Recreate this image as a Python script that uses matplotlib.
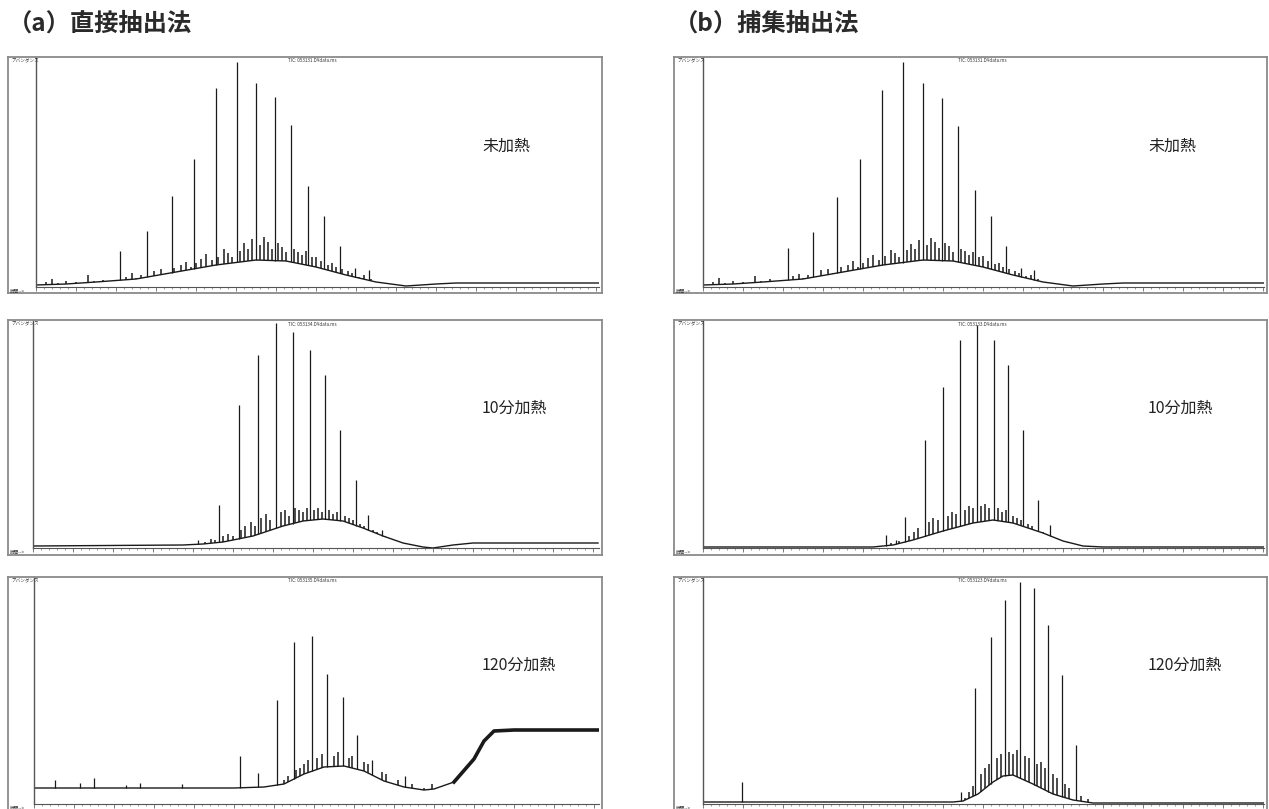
import matplotlib
matplotlib.use("Agg")
import matplotlib.pyplot as plt
import numpy as np

plt.rcParams['font.family'] = ['Noto Sans CJK JP', 'DejaVu Sans']

# ---------------- data (x: scan position, y: abundance, arbitrary units) ----------------
titles = ["（a）直接抽出法", "（b）捕集抽出法"]
conditions = ["未加熱", "10分加熱", "120分加熱"]
tic_names = [["TIC: 053131.D¥data.ms", "TIC: 053134.D¥data.ms", "TIC: 053135.D¥data.ms"],
             ["TIC: 053131.D¥data.ms", "TIC: 053133.D¥data.ms", "TIC: 053123.D¥data.ms"]]

# (a) 未加熱
a1_base_x = [0, 30, 60, 100, 140, 180, 220, 250, 280, 310, 340, 370, 400, 420, 564]
a1_base_y = [2, 3, 5, 8, 15, 22, 27, 26, 20, 12, 5, 1, 3, 4, 4]
a1_peak_x = [84, 111, 136, 158, 180, 201, 220, 239, 255, 272, 288, 304, 319, 333]
a1_peak_y = [36, 56, 91, 128, 199, 225, 204, 190, 162, 101, 71, 41, 19, 17]
a1_minor_x = [10, 16, 22, 30, 40, 52, 58, 67, 75, 90, 96, 100, 105, 113, 118, 125, 130, 138,
              145, 150, 155, 160, 165, 170, 176, 182, 188, 192, 196, 204, 208, 212, 216, 224,
              228, 232, 236, 242, 246, 250, 258, 262, 266, 270, 276, 280, 285, 292, 296, 300,
              306, 312, 316, 323, 328, 335]
a1_minor_y = [5, 8, 4, 6, 5, 12, 6, 7, 6, 10, 14, 9, 12, 10, 16, 18, 14, 19,
              22, 25, 20, 24, 28, 33, 27, 30, 38, 34, 30, 36, 44, 38, 48, 42,
              50, 45, 38, 44, 40, 35, 38, 35, 32, 36, 30, 30, 26, 22, 24, 20,
              18, 16, 14, 10, 12, 8]

# (a) 10分加熱
a2_base_x = [0, 150, 170, 190, 220, 250, 270, 290, 310, 330, 350, 370, 390, 400, 420, 440, 565]
a2_base_y = [2, 3, 4, 6, 12, 22, 27, 29, 27, 20, 12, 5, 1, 0, 3, 5, 5]
a2_peak_x = [165, 186, 206, 225, 243, 260, 277, 292, 307, 323, 335, 349]
a2_peak_y = [8, 43, 143, 193, 225, 216, 198, 173, 118, 68, 33, 18]
a2_minor_x = [172, 178, 182, 190, 195, 200, 208, 212, 218, 222, 228, 233, 237, 248, 252, 256,
              262, 266, 270, 274, 281, 285, 289, 296, 300, 304, 312, 316, 320, 327, 331, 340,
              344, 352, 357, 362]
a2_minor_y = [6, 9, 8, 12, 14, 12, 18, 22, 26, 22, 30, 34, 28, 36, 38, 32,
              40, 38, 36, 40, 38, 40, 36, 38, 34, 36, 32, 30, 28, 24, 22, 18,
              16, 12, 10, 8]

# (a) 120分加熱
a3_base_x = [0, 100, 200, 230, 250, 270, 290, 310, 330, 350, 370, 390, 400, 420, 440, 450, 460, 480, 564]
a3_base_y = [16, 16, 16, 17, 20, 30, 37, 38, 33, 23, 17, 14, 15, 22, 45, 63, 73, 74, 74]
a3_peak_x = [21, 46, 60, 92, 106, 148, 206, 224, 243, 260, 278, 293, 309, 323, 338, 371]
a3_peak_y = [24, 21, 26, 19, 21, 20, 48, 31, 104, 162, 168, 130, 107, 69, 44, 28]
a3_minor_x = [250, 254, 262, 266, 270, 274, 283, 288, 300, 304, 315, 318, 330, 334, 348, 352,
              364, 378, 390, 398]
a3_minor_y = [24, 28, 34, 36, 40, 44, 46, 50, 48, 52, 46, 48, 42, 40, 32, 30,
              24, 20, 16, 20]

# (b) 未加熱
b1_base_x = [0, 30, 60, 100, 140, 180, 220, 250, 280, 310, 340, 370, 400, 420, 563]
b1_base_y = [2, 3, 5, 8, 15, 22, 27, 26, 20, 12, 5, 1, 3, 4, 4]
b1_peak_x = [85, 110, 134, 157, 179, 200, 220, 239, 255, 272, 288, 303, 318, 331]
b1_peak_y = [39, 55, 90, 128, 197, 225, 204, 189, 161, 97, 71, 41, 19, 17]
b1_minor_x = [10, 16, 22, 30, 40, 52, 58, 67, 75, 90, 96, 100, 105, 113, 118, 125, 130, 138,
              145, 150, 155, 160, 165, 170, 176, 182, 188, 192, 196, 204, 208, 212, 216, 224,
              228, 232, 236, 242, 246, 250, 258, 262, 266, 270, 276, 280, 285, 292, 296, 300,
              306, 312, 316, 323, 328, 335]
b1_minor_y = [5, 9, 4, 6, 5, 11, 6, 8, 6, 11, 13, 9, 12, 10, 17, 18, 14, 20,
              22, 26, 20, 24, 29, 32, 27, 31, 37, 34, 30, 37, 43, 38, 47, 42,
              49, 45, 39, 44, 41, 35, 38, 36, 32, 35, 30, 31, 26, 23, 24, 20,
              18, 16, 14, 11, 12, 8]

# (b) 10分加熱
b2_base_x = [0, 170, 190, 210, 240, 270, 290, 310, 340, 360, 380, 400, 563]
b2_base_y = [1, 1, 3, 8, 17, 25, 28, 25, 15, 7, 2, 1, 1]
b2_peak_x = [183, 193, 202, 222, 240, 257, 274, 291, 305, 320, 335, 347]
b2_peak_y = [13, 8, 31, 108, 161, 208, 223, 208, 183, 118, 48, 23]
b2_minor_x = [188, 196, 206, 211, 215, 226, 230, 235, 245, 249, 253, 262, 266, 270, 278, 282,
              286, 295, 299, 303, 310, 314, 318, 325, 329, 340, 344, 352, 358, 365]
b2_minor_y = [5, 7, 12, 16, 20, 26, 30, 28, 32, 36, 34, 38, 42, 40, 42, 44,
              40, 40, 36, 38, 32, 30, 28, 24, 22, 16, 14, 10, 8, 5]

# (b) 120分加熱
b3_base_x = [0, 250, 260, 275, 290, 300, 310, 330, 350, 370, 390, 563]
b3_base_y = [2, 2, 3, 10, 22, 28, 29, 20, 10, 4, 1, 1]
b3_peak_x = [39, 258, 272, 288, 302, 317, 331, 345, 359, 373]
b3_peak_y = [22, 12, 116, 167, 204, 222, 216, 179, 129, 59]
b3_minor_x = [262, 266, 270, 278, 282, 286, 294, 298, 306, 310, 314, 322, 326, 334, 338, 342,
              350, 354, 362, 366, 378, 385]
b3_minor_y = [6, 12, 18, 30, 36, 40, 46, 50, 52, 50, 54, 48, 46, 40, 42, 36,
              30, 26, 20, 16, 8, 5]

panels = [
    [(a1_base_x, a1_base_y, a1_peak_x, a1_peak_y, a1_minor_x, a1_minor_y),
     (a2_base_x, a2_base_y, a2_peak_x, a2_peak_y, a2_minor_x, a2_minor_y),
     (a3_base_x, a3_base_y, a3_peak_x, a3_peak_y, a3_minor_x, a3_minor_y)],
    [(b1_base_x, b1_base_y, b1_peak_x, b1_peak_y, b1_minor_x, b1_minor_y),
     (b2_base_x, b2_base_y, b2_peak_x, b2_peak_y, b2_minor_x, b2_minor_y),
     (b3_base_x, b3_base_y, b3_peak_x, b3_peak_y, b3_minor_x, b3_minor_y)],
]

# ---------------- layout (pixels) ----------------
W, H = 1269, 809
fig = plt.figure(figsize=(W / 100, H / 100), dpi=100)


def fbox(x0, y0, x1, y1):
    return [x0 / W, 1 - y1 / H, (x1 - x0) / W, (y1 - y0) / H]


col_outer = [(8, 602), (674, 1267)]
col_inner_left = [[36, 33, 34], [703, 703, 703]]
row_outer = [(57, 293), (320, 555), (577, 812)]
row_axis = [287, 548, 804]
title_x = [8, 674]
label_x = [482, 1148]
label_y = [146, 408, 665]
tic_x = [288, 958]

line_col = '#1a1a1a'
frame_col = '#8a8a8a'

for c in range(2):
    fig.text(title_x[c] / W, 1 - 24 / H, titles[c], fontsize=17.5, fontweight='bold',
             color='#2a2a2a', va='center', ha='left')
    for r in range(3):
        ox0, ox1 = col_outer[c]
        oy0, oy1 = row_outer[r]
        outer = fig.add_axes(fbox(ox0, oy0, ox1, oy1))
        outer.set_xticks([])
        outer.set_yticks([])
        for s in outer.spines.values():
            s.set_color(frame_col)
            s.set_linewidth(1.3)
        outer.patch.set_alpha(0)

        il = col_inner_left[c][r]
        ay = row_axis[r]
        inner = fig.add_axes(fbox(il, oy0 + 1, ox1 - 3, ay))
        inner.patch.set_alpha(0)
        wpx = ox1 - 3 - il
        hpx = ay - oy0 - 1
        inner.set_xlim(0, wpx)
        inner.set_ylim(0, hpx)
        inner.spines['top'].set_visible(False)
        inner.spines['right'].set_visible(False)
        inner.spines['left'].set_color('#555555')
        inner.spines['bottom'].set_color('#555555')
        inner.spines['left'].set_linewidth(1.0)
        inner.spines['bottom'].set_linewidth(0.8)
        inner.set_yticks([])
        inner.set_xticks(np.arange(0, wpx, 40))
        inner.set_xticks(np.arange(0, wpx, 8), minor=True)
        inner.tick_params(axis='x', which='major', length=3, width=0.6, color='#666666',
                          direction='out', labelbottom=False)
        inner.tick_params(axis='x', which='minor', length=1.5, width=0.5, color='#777777',
                          direction='out')

        bx, by, px, py, mx, my = panels[c][r]
        bx = np.asarray(bx, float)
        by = np.asarray(by, float)
        inner.plot(bx, by, color=line_col, lw=1.0, solid_joinstyle='round')
        if c == 0 and r == 2:
            # noisy plateau drawn as a heavier trace
            sel = bx >= 420
            inner.plot(bx[sel], by[sel], color=line_col, lw=2.6, solid_joinstyle='round')
        inner.vlines(mx, np.interp(mx, bx, by), my, color=line_col, lw=1.1)
        inner.vlines(px, np.interp(px, bx, by), py, color=line_col, lw=0.9)

        # small instrument texts
        fig.text((ox0 + 3) / W, 1 - (oy0 + 4) / H, "アバンダンス", fontsize=3.3,
                 color='#333333', va='center', ha='left')
        fig.text(tic_x[c] / W, 1 - (oy0 + 4) / H, tic_names[c][r], fontsize=3.3,
                 color='#333333', va='center', ha='left')
        fig.text((ox0 + 2) / W, 1 - (ay + 4) / H, "時間-->", fontsize=3.3,
                 color='#333333', va='center', ha='left')

        fig.text(label_x[c] / W, 1 - label_y[r] / H, conditions[r], fontsize=11.5,
                 color='#222222', va='center', ha='left')

fig.savefig("out.png", dpi=100)
